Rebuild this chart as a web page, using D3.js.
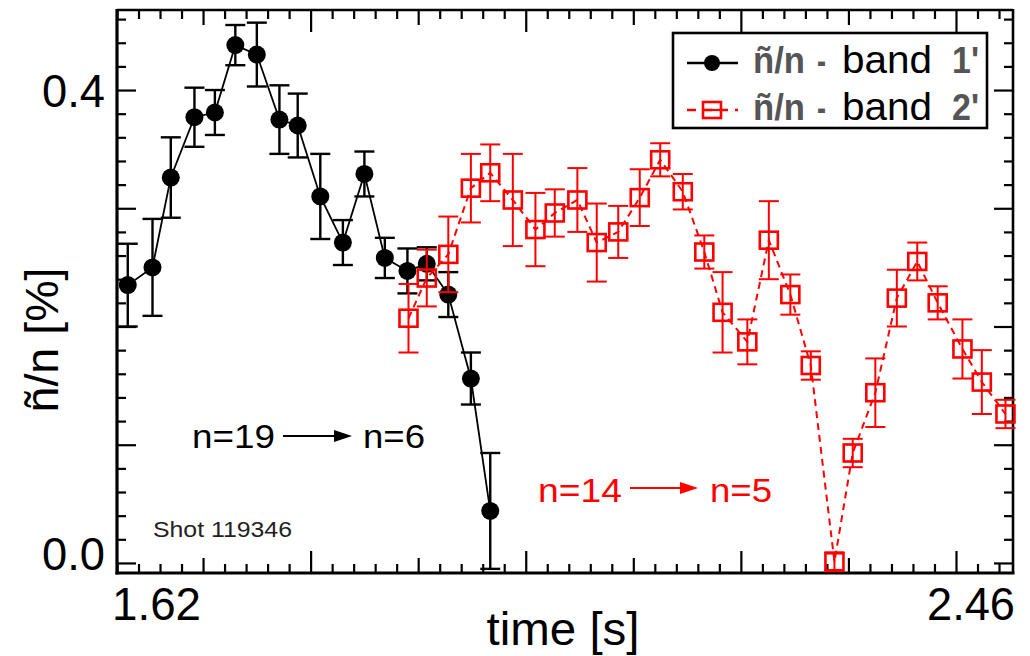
<!DOCTYPE html>
<html>
<head>
<meta charset="utf-8">
<script src="https://cdn.jsdelivr.net/npm/d3@7"></script>
<style>
  html, body { margin: 0; padding: 0; background: #fff; }
  svg { display: block; }
  text { font-family: "Liberation Sans", Arial, Helvetica, sans-serif; }
</style>
</head>
<body>
<svg id="chart" width="1030" height="656"></svg>
<script>
// ---------------- data ----------------
const band1Time  = [1.630,1.653,1.670,1.692,1.711,1.730,1.750,1.771,1.788,1.809,1.830,1.850,1.869,1.890,1.908,1.928,1.949,1.967];
const band1Value = [0.235,0.250,0.326,0.377,0.381,0.438,0.430,0.375,0.370,0.310,0.271,0.329,0.258,0.247,0.253,0.227,0.156,0.044];
const band1Err   = [0.035,0.041,0.034,0.025,0.019,0.017,0.027,0.029,0.027,0.036,0.019,0.019,0.017,0.019,0.014,0.019,0.022,0.049];

const band2Time  = [1.891,1.908,1.928,1.949,1.967,1.988,2.009,2.027,2.048,2.066,2.086,2.106,2.125,2.146,2.166,2.183,2.206,2.226,2.246,2.265,2.287,2.304,2.325,2.345,2.364,2.383,2.406,2.424,2.446];
const band2Value = [0.207,0.241,0.261,0.317,0.330,0.307,0.282,0.296,0.307,0.271,0.280,0.309,0.341,0.314,0.263,0.212,0.187,0.273,0.227,0.167,0.001,0.093,0.144,0.224,0.255,0.220,0.181,0.153,0.126];
const band2Err   = [0.029,0.024,0.032,0.029,0.024,0.039,0.031,0.020,0.027,0.033,0.022,0.024,0.014,0.015,0.014,0.034,0.019,0.033,0.017,0.012,0.008,0.012,0.029,0.024,0.016,0.014,0.025,0.027,0.012];

const xTickLabels = ["1.62", "2.46"];
const yTickLabels = ["0.0", "0.4"];
const yTickLabelValues = [0.0, 0.4];
const legendLabels = ["band", "band"];
const legendSuffix = ["1'", "2'"];
const annotationBlack = ["n=19", "n=6"];
const annotationRed = ["n=14", "n=5"];
const shotLabel = "Shot 119346";

// ---------------- layout ----------------
const L = 117, R = 1013, T = 10, B = 573;
const svg = d3.select("#chart");

const x = d3.scaleLinear().domain([1.62, 2.453]).range([L, R]);
const y = d3.scaleLinear().domain([-0.0085, 0.4677]).range([B, T]);

function addText(g, px, py, str, size, len, anchor, fill, weight) {
  const t = g.append("text")
    .attr("x", px).attr("y", py)
    .attr("font-size", size)
    .attr("text-anchor", anchor || "start")
    .attr("fill", fill || "#000")
    .attr("font-weight", weight || "normal")
    .text(str);
  if (len) t.attr("textLength", len).attr("lengthAdjust", "spacingAndGlyphs");
  return t;
}

// ---------------- ticks (inward, via d3 axes) ----------------
const xMinor = d3.range(81, 123).filter(k => k % 5 !== 0).map(k => k * 0.02);
const xMid   = d3.range(81, 123).filter(k => k % 5 === 0 && k % 10 !== 0).map(k => k * 0.02);
const xMajor = d3.range(81, 123).filter(k => k % 10 === 0).map(k => k * 0.02);
const yMinor = d3.range(0, 24).filter(k => k % 5 !== 0).map(k => k * 0.02);
const yMajor = d3.range(0, 24).filter(k => k % 5 === 0).map(k => k * 0.02);

function tickAxis(axisFn, scale, vals, size, transform) {
  const g = svg.append("g").attr("transform", transform)
    .call(axisFn(scale).tickValues(vals).tickSizeInner(-size).tickSizeOuter(0).tickFormat(""));
  g.select(".domain").remove();
  g.selectAll(".tick line").attr("stroke", "#000").attr("stroke-width", 2.2);
  return g;
}
[[xMinor, 9], [xMid, 15], [xMajor, 22]].forEach(([v, s]) => {
  tickAxis(d3.axisBottom, x, v, s, `translate(0,${B})`);
  tickAxis(d3.axisTop, x, v, s, `translate(0,${T})`);
});
[[yMinor, 9], [yMajor, 19]].forEach(([v, s]) => {
  tickAxis(d3.axisLeft, y, v, s, `translate(${L},0)`);
  tickAxis(d3.axisRight, y, v, s, `translate(${R},0)`);
});

// ---------------- frame ----------------
const frame = svg.append("g").attr("stroke", "#000").attr("fill", "none");
frame.append("line").attr("x1", L).attr("x2", L).attr("y1", T - 1).attr("y2", B + 1.5).attr("stroke-width", 3.2);
frame.append("line").attr("x1", L - 1.5).attr("x2", R + 1.5).attr("y1", B).attr("y2", B).attr("stroke-width", 3.2);
frame.append("line").attr("x1", L).attr("x2", R).attr("y1", T).attr("y2", T).attr("stroke-width", 2.4);
frame.append("line").attr("x1", R).attr("x2", R).attr("y1", T - 1).attr("y2", B).attr("stroke-width", 2.6);

// ---------------- series ----------------
const plot = svg.append("g");
const band1 = band1Time.map((t, i) => ({ t, v: band1Value[i], e: band1Err[i] }));
const band2 = band2Time.map((t, i) => ({ t, v: band2Value[i], e: band2Err[i] }));
const line = d3.line().x(d => x(d.t)).y(d => y(d.v));
const capW = 10;

function errBars(g, data, color, w) {
  const eb = g.append("g").attr("stroke", color).attr("stroke-width", w);
  data.forEach(d => {
    const lo = Math.max(d.v - d.e, y.invert(B - 1));
    eb.append("line").attr("x1", x(d.t)).attr("x2", x(d.t)).attr("y1", y(d.v + d.e)).attr("y2", y(lo));
    eb.append("line").attr("x1", x(d.t) - capW).attr("x2", x(d.t) + capW).attr("y1", y(d.v + d.e)).attr("y2", y(d.v + d.e));
    eb.append("line").attr("x1", x(d.t) - capW).attr("x2", x(d.t) + capW).attr("y1", y(lo)).attr("y2", y(lo));
  });
}

// band 1' (black, filled circles, solid line)
plot.append("path").datum(band1).attr("d", line).attr("fill", "none").attr("stroke", "#000").attr("stroke-width", 1.8);
errBars(plot, band1, "#000", 2.4);
plot.append("g").selectAll("circle").data(band1).join("circle")
  .attr("cx", d => x(d.t)).attr("cy", d => y(d.v)).attr("r", 9).attr("fill", "#000");

// band 2' (red, open squares, dashed line)
const RED = "#ff0000";
plot.append("path").datum(band2).attr("d", line).attr("fill", "none").attr("stroke", RED)
  .attr("stroke-width", 2).attr("stroke-dasharray", "7,5");
errBars(plot, band2, RED, 2);
plot.append("g").selectAll("rect").data(band2).join("rect")
  .attr("x", d => x(d.t) - 9).attr("y", d => y(d.v) - 8.5).attr("width", 18).attr("height", 17)
  .attr("fill", "none").attr("stroke", RED).attr("stroke-width", 2.6);

// ---------------- axis labels ----------------
const lab = svg.append("g");
addText(lab, L - 12, y(yTickLabelValues[1]) + 17, yTickLabels[1], 47, 63, "end");
addText(lab, L - 12, y(yTickLabelValues[0]) + 7, yTickLabels[0], 47, 63, "end");
addText(lab, x(1.62) - 5, 620, xTickLabels[0], 47, 89, "start");
addText(lab, R + 2, 620, xTickLabels[1], 47, 88, "end");
addText(lab, 563, 645, "time [s]", 46, 153, "middle");
addText(lab.append("g").attr("transform", "translate(58,340) rotate(-90)"), 0, 0, "ñ/n [%]", 46, 145, "middle");

// ---------------- annotations ----------------
const ann = svg.append("g");
addText(ann, 192, 448, annotationBlack[0], 33, 83, "start", "#000");
addText(ann, 363, 448, annotationBlack[1], 33, 62, "start", "#000");
ann.append("line").attr("x1", 283).attr("x2", 338).attr("y1", 436).attr("y2", 436).attr("stroke", "#000").attr("stroke-width", 2);
ann.append("path").attr("d", "M334,430 L352,436 L334,442 Z").attr("fill", "#000");

addText(ann, 538, 502, annotationRed[0], 33, 84, "start", RED);
addText(ann, 710, 502, annotationRed[1], 33, 62, "start", RED);
ann.append("line").attr("x1", 630).attr("x2", 684).attr("y1", 488).attr("y2", 488).attr("stroke", RED).attr("stroke-width", 2);
ann.append("path").attr("d", "M680,482 L698,488 L680,494 Z").attr("fill", RED);

addText(ann, 153, 537, shotLabel, 22, 139, "start", "#222");

// ---------------- legend ----------------
const leg = svg.append("g");
leg.append("rect").attr("x", 673).attr("y", 33).attr("width", 314).attr("height", 95)
  .attr("fill", "#fff").attr("stroke", "#000").attr("stroke-width", 2.6);
const rowY = [63, 110];
// row 1 sample
leg.append("line").attr("x1", 687).attr("x2", 738).attr("y1", rowY[0]).attr("y2", rowY[0]).attr("stroke", "#000").attr("stroke-width", 2.4);
leg.append("circle").attr("cx", 712).attr("cy", rowY[0]).attr("r", 8).attr("fill", "#000");
// row 2 sample
leg.append("line").attr("x1", 687).attr("x2", 738).attr("y1", rowY[1]).attr("y2", rowY[1]).attr("stroke", RED).attr("stroke-width", 2.4).attr("stroke-dasharray", "9,7");
leg.append("rect").attr("x", 703).attr("y", rowY[1] - 8).attr("width", 18).attr("height", 16)
  .attr("fill", "none").attr("stroke", RED).attr("stroke-width", 2.6);
leg.append("line").attr("x1", 703).attr("x2", 721).attr("y1", rowY[1]).attr("y2", rowY[1]).attr("stroke", RED).attr("stroke-width", 2.2);

rowY.forEach((ry, i) => {
  addText(leg, 753, ry + 10, "ñ/n", 36, 52, "start", "#555", "bold");
  addText(leg, 817, ry + 10, "-", 36, 9, "start", "#555", "bold");
  addText(leg, 842, ry + 10, legendLabels[i], 38, 90, "start", "#000");
  addText(leg, 952, ry + 10, legendSuffix[i], 36, 27, "start", "#555", "bold");
});
</script>
</body>
</html>
